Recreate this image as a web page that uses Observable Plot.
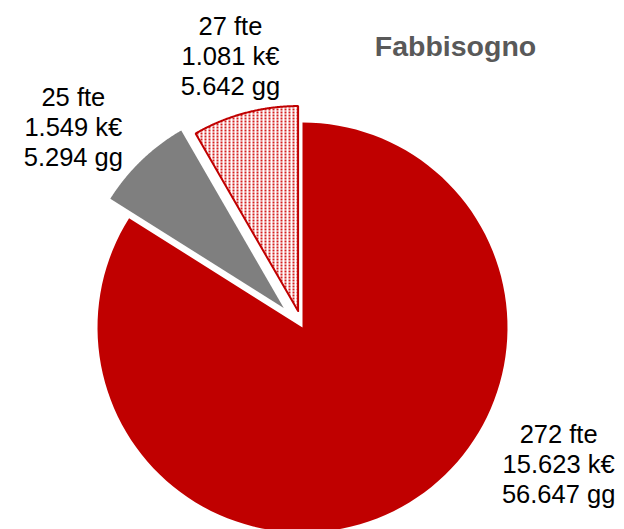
<!DOCTYPE html>
<html><head><meta charset="utf-8">
<script src="https://cdn.jsdelivr.net/npm/d3@7"></script>
<script src="https://cdn.jsdelivr.net/npm/@observablehq/plot@0.6"></script>
<style>body{margin:0;background:#fff}#chart{width:624px;height:529px}</style>
</head><body><div id="chart"></div>
<script>
// ---- data ----
const categories = ["Risorse interne", "Altro", "Risorse esterne"];
const fte = [272, 25, 27];
const costK = [15623, 1549, 1081];
const giorni = [56647, 5294, 5642];
const title = "Fabbisogno";

// ---- layout / style ----
const colors = ["#C00000", "#7F7F7F", "url(#dots)"];
const strokes = ["none", "none", "#C00000"];
const explode = [0, 0.132, 0.083];           // in radius units
const labelAngleDeg = [118, 311.3, 345.2];   // clockwise from 12 o'clock
const labelRadius = [1.415, 1.488, 1.375];

const loc = d3.formatLocale({decimal: ",", thousands: ".", grouping: [3], currency: ["", "€"]});
const fmt = loc.format(",d");

const total = d3.sum(fte);
let acc = 0;
const slices = fte.map((v, i) => {
  const a0 = acc / total * 2 * Math.PI;
  acc += v;
  const a1 = acc / total * 2 * Math.PI;
  return {i, name: categories[i], a0, a1};
});

// outline points for each slice (unit circle, angle clockwise from top)
const pts = [];
for (const s of slices) {
  const mid = (s.a0 + s.a1) / 2;
  const ox = explode[s.i] * Math.sin(mid), oy = explode[s.i] * Math.cos(mid);
  pts.push({slice: s.i, x: ox, y: oy});
  const n = 120;
  for (let k = 0; k <= n; k++) {
    const a = s.a0 + (s.a1 - s.a0) * k / n;
    pts.push({slice: s.i, x: ox + Math.sin(a), y: oy + Math.cos(a)});
  }
  pts.push({slice: s.i, x: ox, y: oy});
}

const labels = slices.map(s => {
  const a = labelAngleDeg[s.i] * Math.PI / 180;
  return {
    x: labelRadius[s.i] * Math.sin(a),
    y: labelRadius[s.i] * Math.cos(a),
    text: `${fte[s.i]} fte\n${fmt(costK[s.i])} k€\n${fmt(giorni[s.i])} gg`
  };
});

const R = 205;
const svg = Plot.plot({
  width: 624, height: 529, margin: 0,
  style: {fontFamily: "'Liberation Sans', Arial, sans-serif", background: "white", overflow: "visible"},
  x: {domain: [-302 / R, 322 / R], axis: null},
  y: {domain: [-202 / R, 327 / R], axis: null},
  marks: [
    ...slices.map(s => Plot.line(pts.filter(p => p.slice === s.i), {
      x: "x", y: "y", fill: colors[s.i], stroke: strokes[s.i],
      strokeWidth: 2, strokeLinejoin: "miter"
    })),
    Plot.text(labels, {x: "x", y: "y", text: "text", fontSize: 25.5, lineHeight: 1.18, fill: "#000", textAnchor: "middle"}),
    Plot.text([title], {frameAnchor: "top-left", dx: 455, dy: 55, lineAnchor: "bottom", textAnchor: "middle",
      fontWeight: "bold", fontSize: 28.5, fill: "#595959"})
  ]
});

const defs = d3.select(svg).insert("defs", ":first-child");
const pat = defs.append("pattern").attr("id", "dots").attr("patternUnits", "userSpaceOnUse")
  .attr("width", 4).attr("height", 3);
pat.append("rect").attr("width", 4).attr("height", 3).attr("fill", "#fff");
pat.append("rect").attr("x", 0).attr("y", 0).attr("width", 2).attr("height", 2).attr("fill", "#D42020");

document.getElementById("chart").appendChild(svg);
</script>
</body></html>
